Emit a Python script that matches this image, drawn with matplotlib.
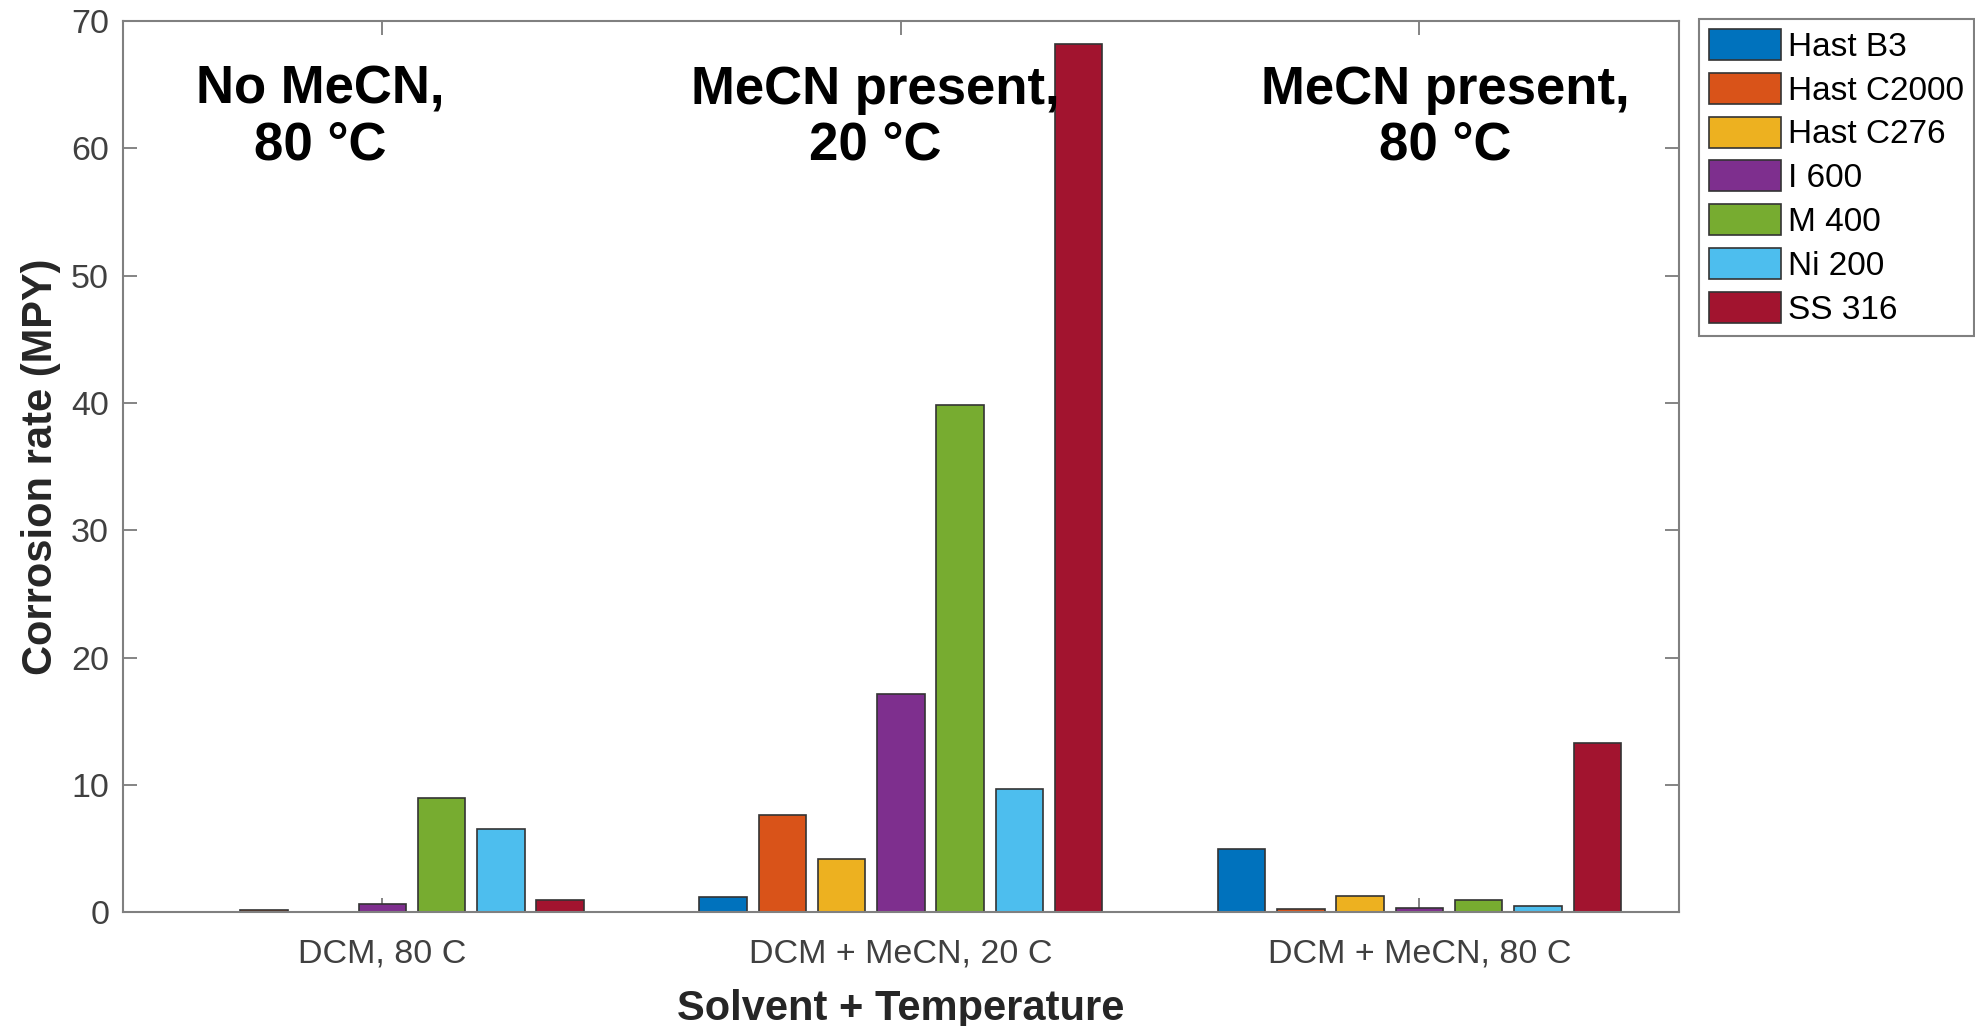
import numpy as np
import matplotlib.pyplot as plt

plt.rcParams['font.family'] = ['Liberation Sans', 'DejaVu Sans']

groups = ['DCM, 80 C', 'DCM + MeCN, 20 C', 'DCM + MeCN, 80 C']
alloys = ['Hast B3', 'Hast C2000', 'Hast C276', 'I 600', 'M 400', 'Ni 200', 'SS 316']
hast_b3 = [0.0, 1.15, 4.95]
hast_c2000 = [0.18, 7.6, 0.24]
hast_c276 = [0.0, 4.2, 1.3]
i600 = [0.65, 17.1, 0.35]
m400 = [8.95, 39.8, 0.92]
ni200 = [6.5, 9.7, 0.45]
ss316 = [0.95, 68.2, 13.3]
notes = ['No MeCN,\n80 °C', 'MeCN present,\n20 °C', 'MeCN present,\n80 °C']

colors = ['#0072BD', '#D95319', '#EDB120', '#7E2F8E', '#77AC30', '#4DBEEE', '#A2142F']
series = [hast_b3, hast_c2000, hast_c276, i600, m400, ni200, ss316]

fig = plt.figure(figsize=(19.75, 10.26), dpi=100)
ax = fig.add_axes([0.0623, 0.111, 0.7877, 0.8685])

x = np.arange(1, len(groups) + 1)
slot = 0.8 / len(series)
for j, (vals, c, lab) in enumerate(zip(series, colors, alloys)):
    ax.bar(x + (j - 3) * slot, vals, width=slot * 0.8, color=c,
           edgecolor='#333333', linewidth=1.2, label=lab, zorder=2)

ax.set_xlim(0.5, 3.5)
ax.set_ylim(0, 70)
ax.set_xticks(x)
ax.set_xticklabels(groups)
ax.set_yticks(np.arange(0, 71, 10))
ax.tick_params(axis='both', direction='in', length=10, width=1.2, color='#707070',
               labelsize=24.5, labelcolor='#404040', top=True, right=True)
ax.tick_params(axis='x', pad=19)
ax.tick_params(axis='y', pad=10)
for s in ax.spines.values():
    s.set_color('#808080')
    s.set_linewidth(1.5)

ax.set_xlabel('Solvent + Temperature', fontsize=30, fontweight='bold', color='#262626', labelpad=14)
ax.set_ylabel('Corrosion rate (MPY)', fontsize=30, fontweight='bold', color='#262626', labelpad=7)

note_x = [0.88, 1.95, 3.05]
for nx, t in zip(note_x, notes):
    ax.text(nx, 62.4, t, fontsize=38, fontweight='bold', ha='center', va='center',
            multialignment='center', linespacing=1.15, zorder=3)

leg = fig.legend(loc='upper left', bbox_to_anchor=(0.8605, 0.9815), borderaxespad=0,
                 fontsize=24, handlelength=2.15, handleheight=1.05, handletextpad=0.2,
                 labelspacing=0.3, borderpad=0.3, fancybox=False, framealpha=1)
leg.get_frame().set_edgecolor('#808080')
leg.get_frame().set_linewidth(1.5)

fig.savefig('out.png', dpi=100)
